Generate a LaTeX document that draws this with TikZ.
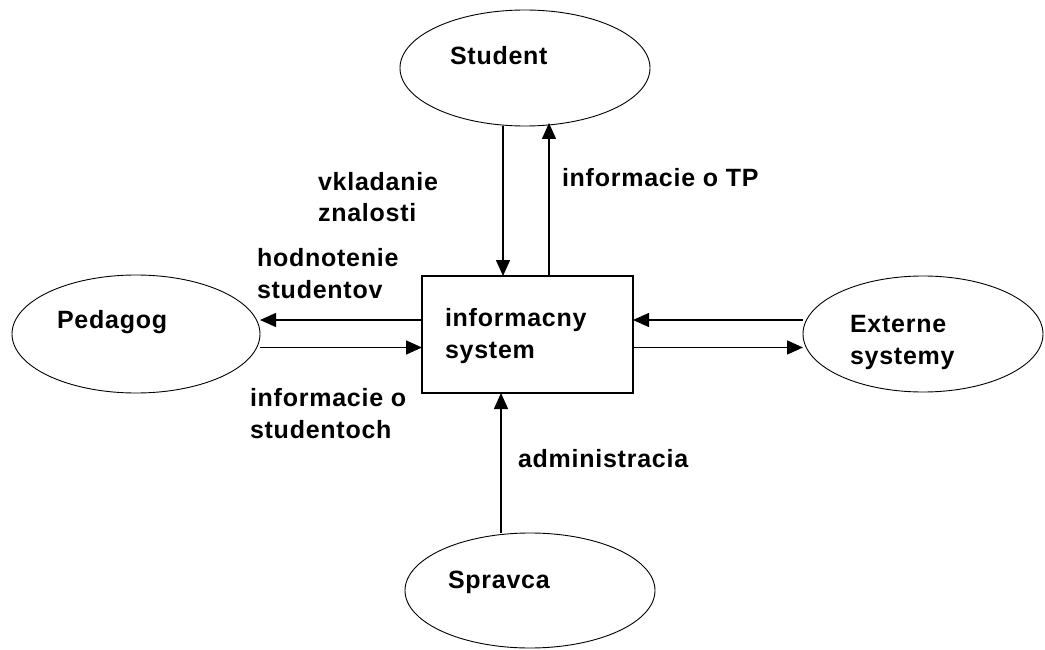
\documentclass[tikz,border=0pt]{standalone}
\usepackage{fontspec}
\setmainfont{Liberation Sans}[LetterSpace=3]
\usetikzlibrary{shapes.geometric,arrows.meta}
\begin{document}
\begin{tikzpicture}[x=1pt,y=-1pt,
  ent/.style={ellipse,draw,line width=0.9pt,inner sep=0pt,outer sep=0pt},
  proc/.style={rectangle,draw,line width=1.2pt,inner sep=0pt,outer sep=0pt},
  txt/.style={font=\fontsize{25}{32}\selectfont\bfseries,inner sep=0pt,outer sep=0pt,anchor=base west,align=left},
  arr/.style={line width=1.4pt,-{Triangle[length=16pt,width=14pt]}}]
\useasboundingbox[fill=white] (0,0) rectangle (1045,650);
% entities
\node[ent,minimum width=250pt,minimum height=116pt] (student) at (525,68) {};
\node[ent,minimum width=248pt,minimum height=118pt] (pedagog) at (136,334) {};
\node[ent,minimum width=240pt,minimum height=116pt] (externe) at (923,334) {};
\node[ent,minimum width=250pt,minimum height=115pt] (spravca) at (530,590.5) {};
\node[proc,minimum width=211pt,minimum height=117pt] (box) at (527.5,334.5) {};
% entity texts
\node[txt] (tstudent) at (450,65) {Student};
\node[txt] (tpedagog) at (57,328) {Pedagog};
\node[txt] (texterne) at (850,364) {Externe\\systemy};
\node[txt] (tspravca) at (448,588) {Spravca};
\node[txt] (tbox) at (445,358) {informacny\\system};
% flow labels
\node[txt] (lvklad) at (318,222) {vkladanie\\znalosti};
\node[txt] (linftp) at (562,186) {informacie o TP};
\node[txt] (lhodn) at (257,298) {hodnotenie\\studentov};
\node[txt] (linfst) at (250,438) {informacie o\\studentoch};
\node[txt] (ladmin) at (518,467) {administracia};
% helper coordinates
\coordinate (yA) at (0,320);
\coordinate (yB) at (0,347.5);
\coordinate (xA) at (503,0);
\coordinate (xB) at (549,0);
\coordinate (xC) at (501,0);
% flows
\draw[arr] (student.south -| xA) -- (box.north -| xA);
\draw[arr] (box.north -| xB) -- ([yshift=3pt]student.south -| xB);
\draw[arr] (box.west |- yA) -- (pedagog.east |- yA);
\draw[arr] (pedagog.east |- yB) -- (box.west |- yB);
\draw[arr] (externe.west |- yA) -- (box.east |- yA);
\draw[arr] (box.east |- yB) -- (externe.west |- yB);
\draw[arr] (spravca.north -| xC) -- (box.south -| xC);
\end{tikzpicture}
\end{document}
